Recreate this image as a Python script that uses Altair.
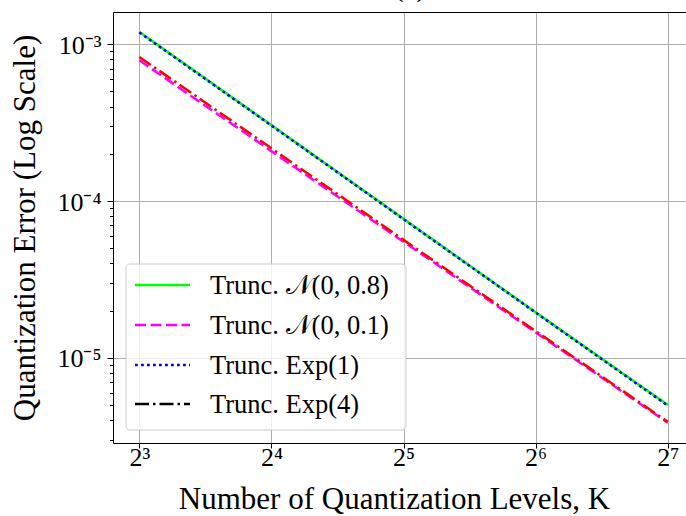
import altair as alt
import pandas as pd
import math

# ---------------- data ----------------
K = [8, 16, 32, 64, 128]
series_names = ["Trunc. 𝒩(0, 0.8)", "Trunc. 𝒩(0, 0.1)", "Trunc. Exp(1)", "Trunc. Exp(4)"]
err_n08 = [1.20e-3, 3.05e-4, 7.7e-5, 1.95e-5, 5.0e-6]
err_n01 = [7.9e-4, 2.08e-4, 5.5e-5, 1.45e-5, 3.85e-6]
err_exp1 = [1.19e-3, 3.03e-4, 7.65e-5, 1.94e-5, 4.95e-6]
err_exp4 = [8.3e-4, 2.17e-4, 5.65e-5, 1.48e-5, 3.9e-6]
all_series = [err_n08, err_n01, err_exp1, err_exp4]

x_tick_values = [8, 16, 32, 64, 128]
x_tick_labels = ["2³", "2⁴", "2⁵", "2⁶", "2⁷"]
y_tick_values = [1e-5, 1e-4, 1e-3]
y_tick_labels = ["10⁻⁵", "10⁻⁴", "10⁻³"]
title_text = ["(a)"]

# ---------------- style ----------------
FONT = "Liberation Serif"
W, H = 573, 431
PL, PT = 113, 12
line_colors = ["#00ff00", "#ff00ff", "#0000ff", "#ff0000"]
legend_colors = ["#00ff00", "#ff00ff", "#0000ff", "#000000"]
dashes = [[1, 0], [11, 4.5], [2.8, 3.2], [14, 4, 2.5, 4]]
LW = 2.5

x_dom = [2 ** 2.801, 2 ** 7.138]
y_dom = [10 ** -5.544, 10 ** -2.794]

minor = [m * 10 ** e for e in (-6, -5, -4, -3) for m in range(2, 10)]
minor = [v for v in minor if y_dom[0] <= v <= y_dom[1]]

xscale = alt.Scale(type="log", base=2, domain=x_dom, nice=False, zero=False)
yscale = alt.Scale(type="log", domain=y_dom, nice=False, zero=False)

x_label_expr = " : ".join(
    f"datum.value < {v * 1.4} ? '{l}'" for v, l in zip(x_tick_values[:-1], x_tick_labels[:-1])
) + f" : '{x_tick_labels[-1]}'"
y_label_expr = " : ".join(
    f"datum.value < {v * 3} ? '{l}'" for v, l in zip(y_tick_values[:-1], y_tick_labels[:-1])
) + f" : '{y_tick_labels[-1]}'"

main_x_axis = alt.Axis(
    values=x_tick_values, labelExpr=x_label_expr, grid=True, gridColor="#b0b0b0", gridWidth=1,
    tickSize=5, tickColor="black", tickWidth=1, domainColor="black", domainWidth=1,
    labelFont=FONT, labelFontSize=26, labelColor="black", labelBaseline="alphabetic",
    labelPadding=17, labelFlush=False, labelAngle=0,
    title="Number of Quantization Levels, K", titleFont=FONT, titleFontSize=31,
    titleFontWeight="normal", titleColor="black", titleX=281, titleY=65,
    titleBaseline="alphabetic", titleAlign="center", titleAnchor="middle",
)
main_y_axis = alt.Axis(
    values=y_tick_values, labelExpr=y_label_expr, grid=True, gridColor="#b0b0b0", gridWidth=1,
    tickSize=6, tickColor="black", tickWidth=1, domainColor="black", domainWidth=1,
    labelFont=FONT, labelFontSize=26, labelColor="black", labelBaseline="alphabetic",
    labelOffset=9, labelPadding=6, labelFlush=False, orient="left",
    title="Quantization Error (Log Scale)", titleFont=FONT, titleFontSize=31,
    titleFontWeight="normal", titleColor="black", titleX=-79, titleY=H / 2,
    titleAngle=270, titleBaseline="alphabetic", titleAlign="center", titleAnchor="middle",
)
minor_y_axis = alt.Axis(
    values=minor, labels=False, grid=False, domain=False, tickSize=3.5, tickColor="black",
    tickWidth=1, orient="left", title=None,
)
top_x_axis = alt.Axis(
    orient="top", labels=False, ticks=False, grid=False, domain=True, domainColor="black",
    domainWidth=1, title=None,
)

layers = []
for i, (name, vals) in enumerate(zip(series_names, all_series)):
    df = pd.DataFrame({"K": K, "err": vals, "series": name})
    if i == 0:
        xa, ya = main_x_axis, main_y_axis
    elif i == 1:
        xa, ya = top_x_axis, minor_y_axis
    else:
        xa, ya = None, None
    layers.append(
        alt.Chart(df).mark_line(
            color=line_colors[i], strokeWidth=LW, strokeDash=dashes[i], clip=True
        ).encode(
            x=alt.X("K:Q", scale=xscale, axis=xa),
            y=alt.Y("err:Q", scale=yscale, axis=ya),
            order="K:Q",
        )
    )

# title (cut off at the top, as in the reference)
layers.append(
    alt.Chart(pd.DataFrame({"t": title_text})).mark_text(
        font=FONT, fontSize=29, color="black", align="center", baseline="alphabetic"
    ).encode(text="t:N", x=alt.value(297), y=alt.value(-16))
)

# legend
layers.append(
    alt.Chart(pd.DataFrame({"a": [0]})).mark_rect(
        fill="white", fillOpacity=0.8, stroke="#cccccc", strokeWidth=1, cornerRadius=4
    ).encode(x=alt.value(13), x2=alt.value(293), y=alt.value(252), y2=alt.value(418))
)
row_y = [273, 313, 353, 392]
for i, name in enumerate(series_names):
    d = pd.DataFrame({"label": [name]})
    layers.append(
        alt.Chart(d).mark_rule(
            color=legend_colors[i], strokeWidth=LW, strokeDash=dashes[i]
        ).encode(x=alt.value(22), x2=alt.value(77), y=alt.value(row_y[i]))
    )
    layers.append(
        alt.Chart(d).mark_text(
            font=FONT, fontSize=26.5, color="black", align="left", baseline="middle"
        ).encode(text="label:N", x=alt.value(97), y=alt.value(row_y[i] + 1))
    )

chart = alt.layer(*layers).resolve_axis(x="independent", y="independent").properties(
    width=W, height=H,
    autosize=alt.AutoSizeParams(type="none"),
    padding={"left": PL, "top": PT, "right": 0, "bottom": 516 - PT - H},
).configure_view(stroke=None).configure(background="white")

chart.save("out.html", embed_options={"renderer": "svg", "actions": False})
